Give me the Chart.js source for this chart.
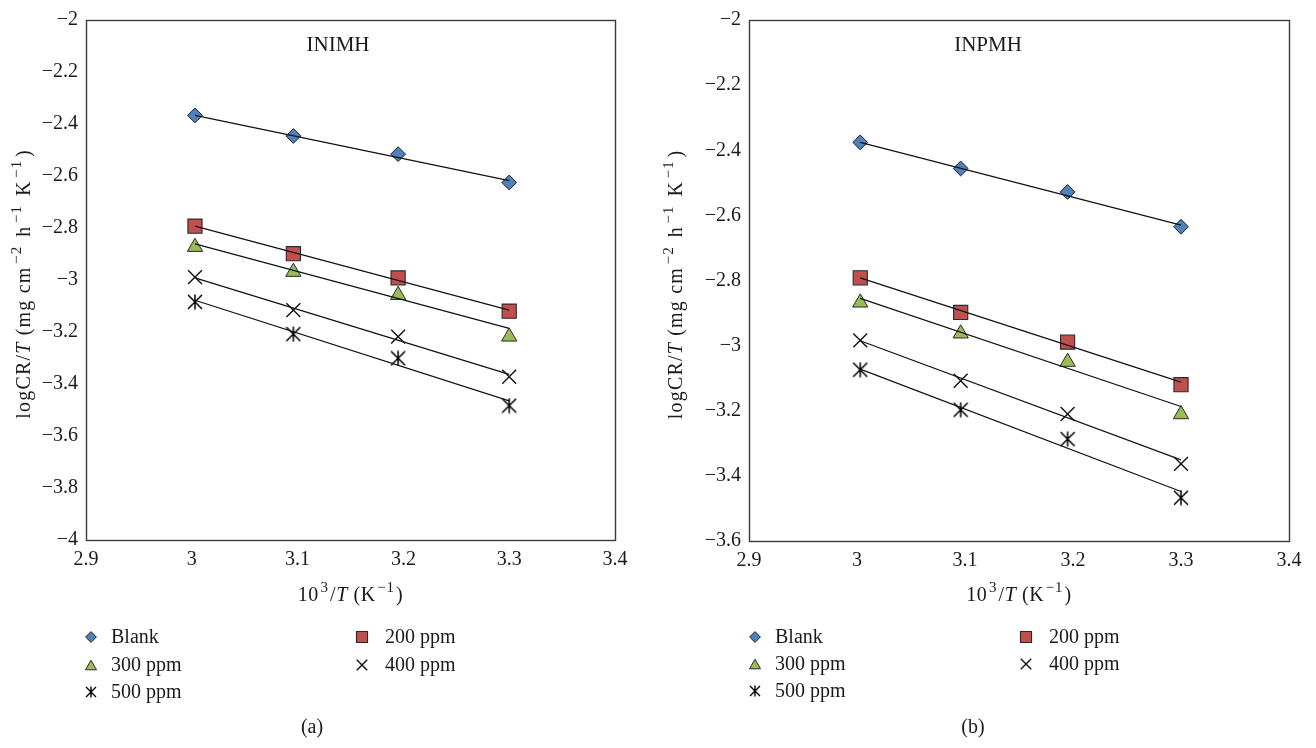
<!DOCTYPE html>
<html>
<head>
<meta charset="utf-8">
<script src="https://cdn.jsdelivr.net/npm/chart.js@4.4.1/dist/chart.umd.min.js"></script>
<style>
html,body{margin:0;padding:0;background:#fff;}
#wrap{position:relative;width:1316px;height:748px;overflow:hidden;}
.panel{position:absolute;top:0;width:658px;height:748px;}
canvas{display:block;}
</style>
</head>
<body>
<div id="wrap">
  <div class="panel" style="left:0"><canvas id="c1" width="658" height="748"></canvas></div>
  <div class="panel" style="left:658px"><canvas id="c2" width="658" height="748"></canvas></div>
</div>
<script>
// ---------------- DATA ----------------
const xValues = [3.003, 3.096, 3.195, 3.300];        // 10^3/T (K^-1)
const fitX = [3.003, 3.300];                          // trendline end x
const seriesNames = ['Blank', '200 ppm', '300 ppm', '400 ppm', '500 ppm'];
const xTicks = [2.9, 3.0, 3.1, 3.2, 3.3, 3.4];
const inimhYTicks = [-2, -2.2, -2.4, -2.6, -2.8, -3, -3.2, -3.4, -3.6, -3.8, -4];
const inpmhYTicks = [-2, -2.2, -2.4, -2.6, -2.8, -3, -3.2, -3.4, -3.6];

// (a) INIMH
const inimhBlank = [-2.367, -2.446, -2.516, -2.625];
const inimh200   = [-2.793, -2.899, -2.992, -3.120];
const inimh300   = [-2.873, -2.969, -3.058, -3.218];
const inimh400   = [-2.989, -3.116, -3.218, -3.372];
const inimh500   = [-3.084, -3.208, -3.301, -3.483];
const inimhFitStart = [-2.367, -2.793, -2.861, -2.992, -3.078];
const inimhFitEnd   = [-2.618, -3.116, -3.186, -3.363, -3.465];

// (b) INPMH
const inpmhBlank = [-2.376, -2.456, -2.528, -2.635];
const inpmh200   = [-2.792, -2.898, -2.989, -3.120];
const inpmh300   = [-2.868, -2.963, -3.050, -3.211];
const inpmh400   = [-2.984, -3.108, -3.210, -3.363];
const inpmh500   = [-3.074, -3.197, -3.287, -3.467];
const inpmhFitStart = [-2.376, -2.792, -2.855, -2.985, -3.072];
const inpmhFitEnd   = [-2.630, -3.112, -3.187, -3.351, -3.448];

// axis titles (rich text segments)
const yTitleParts = [
  { t: 'logCR/' }, { t: 'T', i: true }, { t: ' (mg cm' }, { t: '\u22122', s: true },
  { t: ' h' }, { t: '\u22121', s: true }, { t: ' K' }, { t: '\u22121', s: true }, { t: ')' }
];
const xTitleParts = [
  { t: '10' }, { t: '3', s: true }, { t: '/' }, { t: 'T', i: true }, { t: ' (K' }, { t: '\u22121', s: true }, { t: ')' }
];

// ---------------- STYLE ----------------
const FONT = "'Liberation Serif', 'DejaVu Serif', 'Times New Roman', serif";
const FS = 20;
Chart.defaults.font.family = FONT;
Chart.defaults.font.size = FS;
Chart.defaults.color = '#1a1a1a';

function makeStar(size, lw) {
  const c = document.createElement('canvas');
  c.width = size; c.height = size;
  const g = c.getContext('2d');
  g.strokeStyle = '#000';
  g.lineWidth = lw;
  const m = size / 2, a = size / 2 - 1;
  g.beginPath();
  g.moveTo(m - a, m - a); g.lineTo(m + a, m + a);
  g.moveTo(m + a, m - a); g.lineTo(m - a, m + a);
  g.moveTo(m, m - a - 0.5); g.lineTo(m, m + a + 0.5);
  g.stroke();
  return c;
}
const starBig = makeStar(16, 1.5);
const starSmall = makeStar(12, 1.4);

const markerStyles = [
  { pointStyle: 'rectRot',  radius: 7.4, legendRadius: 5.4, fill: '#4F81BD', border: '#1f1f1f', bw: 1 },
  { pointStyle: 'rect',     radius: 10,  legendRadius: 7.8, fill: '#C0504D', border: '#2a2a2a', bw: 1.1 },
  { pointStyle: 'triangle', radius: 8.8, legendRadius: 6.4, fill: '#9BBB59', border: '#2a2a2a', bw: 1 },
  { pointStyle: 'crossRot', radius: 9.8, legendRadius: 7.4, fill: '#111',    border: '#111',    bw: 1.4 },
  { pointStyle: starBig,    radius: 7,   legendImg: starSmall, fill: '#111', border: '#111', bw: 1.4 }
];

function legendMarker(ctx, st, x, y) {
  if (st.legendImg) {
    const im = st.legendImg;
    ctx.drawImage(im, Math.round(x - im.width / 2), Math.round(y - im.height / 2));
    return;
  }
  const r = st.legendRadius;
  ctx.save();
  ctx.fillStyle = st.fill;
  ctx.strokeStyle = st.border;
  ctx.lineWidth = st.bw;
  ctx.beginPath();
  if (st.pointStyle === 'rectRot') {
    ctx.moveTo(x, y - r); ctx.lineTo(x + r, y); ctx.lineTo(x, y + r); ctx.lineTo(x - r, y); ctx.closePath();
    ctx.fill(); ctx.stroke();
  } else if (st.pointStyle === 'rect') {
    const s = r * Math.SQRT1_2;
    ctx.rect(x - s, y - s, 2 * s, 2 * s);
    ctx.fill(); ctx.stroke();
  } else if (st.pointStyle === 'triangle') {
    const h = r * 1.5, w = r * Math.sqrt(3);
    const top = y - h / 2;
    ctx.moveTo(x, top); ctx.lineTo(x + w / 2, top + h); ctx.lineTo(x - w / 2, top + h); ctx.closePath();
    ctx.fill(); ctx.stroke();
  } else if (st.pointStyle === 'crossRot') {
    const o = r * Math.SQRT1_2;
    ctx.moveTo(x - o, y - o); ctx.lineTo(x + o, y + o);
    ctx.moveTo(x + o, y - o); ctx.lineTo(x - o, y + o);
    ctx.stroke();
  }
  ctx.restore();
}

function fontFor(p) {
  const size = p.s ? Math.round(FS * 0.75) : FS;
  return (p.i ? 'italic ' : '') + size + 'px ' + FONT;
}
// draws rich text centred at (0,0) of the current transform
function drawRich(ctx, parts, spacing, supGap) {
  ctx.letterSpacing = spacing + 'px';
  let total = 0;
  const widths = parts.map(p => {
    ctx.font = fontFor(p);
    const w = ctx.measureText(p.t).width + (p.s ? 2 * supGap : 0);
    total += w; return w;
  });
  let x = -total / 2;
  ctx.textAlign = 'left';
  ctx.textBaseline = 'alphabetic';
  parts.forEach((p, k) => {
    ctx.font = fontFor(p);
    ctx.fillText(p.t, x + (p.s ? supGap : 0), p.s ? FS * 0.35 - FS * 0.45 : FS * 0.35);
    x += widths[k];
  });
  ctx.letterSpacing = '0px';
}

const decorPlugin = {
  id: 'decor',
  beforeDatasetsDraw(chart) {
    const { ctx, chartArea: a } = chart;
    ctx.save();
    ctx.strokeStyle = '#3a3a3a';
    ctx.lineWidth = 1.4;
    ctx.strokeRect(Math.round(a.left) + 0.5, Math.round(a.top) + 0.5,
                   Math.round(a.right - a.left), Math.round(a.bottom - a.top));
    ctx.restore();
  },
  afterDraw(chart, args, o) {
    const ctx = chart.ctx;
    const a = chart.chartArea;
    ctx.save();
    ctx.fillStyle = '#1a1a1a';
    // axis titles
    ctx.save();
    ctx.translate((a.left + a.right) / 2, o.xTitleY);
    drawRich(ctx, xTitleParts, 0.6, 1.5);
    ctx.restore();
    ctx.save();
    ctx.translate(o.yTitleX, (a.top + a.bottom) / 2 + 4);
    ctx.rotate(-Math.PI / 2);
    drawRich(ctx, yTitleParts, 1.2, 2.5);
    ctx.restore();

    ctx.textBaseline = 'middle';
    // panel title inside the plot
    ctx.textAlign = 'center';
    ctx.font = (FS + 1) + 'px ' + FONT;
    ctx.fillText(o.title, o.titleX, o.titleY);
    ctx.font = FS + 'px ' + FONT;
    // caption
    ctx.fillText(o.caption, o.captionX, o.captionY);
    // legend (two columns)
    ctx.textAlign = 'left';
    const slots = [[0, 0], [1, 0], [0, 1], [1, 1], [0, 2]];
    chart.data.datasets.forEach((ds, i) => {
      if (ds.isFit) return;
      const [col, row] = slots[i];
      const y = o.rows[row];
      legendMarker(ctx, markerStyles[i], o.markerX[col], y);
      ctx.fillStyle = '#1a1a1a';
      ctx.fillText(ds.label, o.textX[col], y + 1);
    });
    ctx.restore();
  }
};

function fmt(v) {
  const s = String(Math.round(v * 100) / 100);
  return s.replace('-', '\u2212');
}

function buildChart(canvasId, series, fitStart, fitEnd, yTicks, cfg) {
  const datasets = [];
  series.forEach((vals, i) => {
    const st = markerStyles[i];
    datasets.push({
      label: seriesNames[i],
      data: vals.map((v, k) => ({ x: xValues[k], y: v })),
      showLine: false,
      pointStyle: st.pointStyle,
      pointRadius: st.radius,
      pointHoverRadius: st.radius,
      pointBackgroundColor: st.fill,
      pointBorderColor: st.border,
      pointBorderWidth: st.bw,
      order: 2
    });
  });
  series.forEach((vals, i) => {
    datasets.push({
      label: seriesNames[i] + ' fit',
      isFit: true,
      data: fitX.map((x, k) => ({ x: x, y: k === 0 ? fitStart[i] : fitEnd[i] })),
      showLine: true,
      borderColor: '#111',
      borderWidth: 1.2,
      pointRadius: 0,
      pointHoverRadius: 0,
      order: 1
    });
  });

  return new Chart(document.getElementById(canvasId), {
    type: 'scatter',
    data: { datasets },
    plugins: [decorPlugin],
    options: {
      responsive: false,
      animation: false,
      events: [],
      layout: { padding: cfg.padding },
      plugins: {
        legend: { display: false },
        tooltip: { enabled: false },
        decor: cfg.decor
      },
      scales: {
        x: {
          type: 'linear',
          min: xTicks[0],
          max: xTicks[xTicks.length - 1],
          afterBuildTicks: s => { s.ticks = xTicks.map(v => ({ value: v })); },
          afterFit: s => { s.height = 70; },
          grid: { display: false, drawTicks: false },
          border: { display: false },
          ticks: { padding: 8, maxRotation: 0, autoSkip: false, callback: v => fmt(v), font: { size: FS } },
          title: { display: false, text: '10\u00B3/T (K\u207B\u00B9)' }
        },
        y: {
          type: 'linear',
          min: yTicks[yTicks.length - 1],
          max: yTicks[0],
          afterBuildTicks: s => { s.ticks = yTicks.slice().reverse().map(v => ({ value: v })); },
          afterFit: s => { s.width = cfg.yWidth; },
          grid: { display: false, drawTicks: false },
          border: { display: false },
          ticks: { padding: 8, autoSkip: false, callback: v => fmt(v), font: { size: FS } },
          title: { display: false, text: 'logCR/T (mg cm\u207B\u00B2 h\u207B\u00B9 K\u207B\u00B9)' }
        }
      }
    }
  });
}

buildChart('c1',
  [inimhBlank, inimh200, inimh300, inimh400, inimh500],
  inimhFitStart, inimhFitEnd, inimhYTicks,
  {
    padding: { left: 0, top: 17, right: 43, bottom: 138 },
    yWidth: 86,
    decor: {
      title: 'INIMH', titleX: 338, titleY: 45,
      caption: '(a)', captionX: 312, captionY: 728,
      xTitleY: 594, yTitleX: 23,
      markerX: [91, 362], textX: [111, 385], rows: [637, 665, 692]
    }
  });

buildChart('c2',
  [inpmhBlank, inpmh200, inpmh300, inpmh400, inpmh500],
  inpmhFitStart, inpmhFitEnd, inpmhYTicks,
  {
    padding: { left: 0, top: 16, right: 27, bottom: 137 },
    yWidth: 91,
    decor: {
      title: 'INPMH', titleX: 330, titleY: 45,
      caption: '(b)', captionX: 315, captionY: 728,
      xTitleY: 594, yTitleX: 17,
      markerX: [97, 368], textX: [117, 391], rows: [637, 664, 691]
    }
  });
</script>
</body>
</html>
